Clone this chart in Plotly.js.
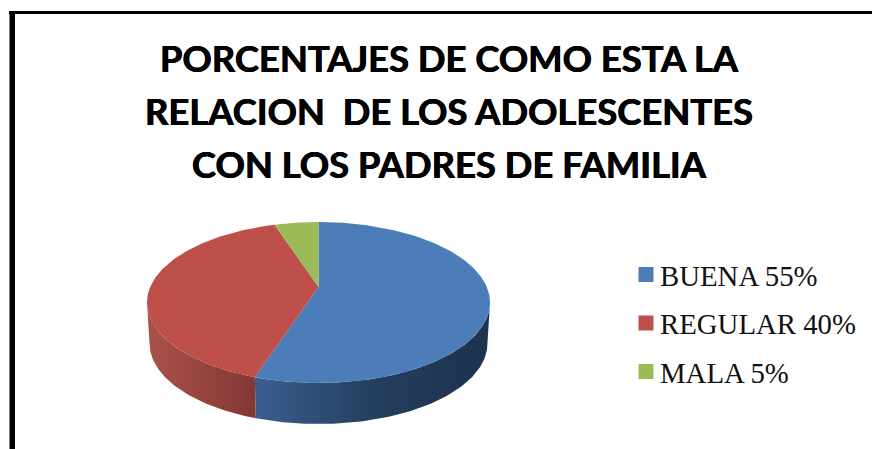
<!DOCTYPE html>
<html>
<head>
<meta charset="utf-8">
<script src="https://cdn.plot.ly/plotly-3.0.1.min.js"></script>
<style>html,body{margin:0;padding:0;background:#fff;}</style>
</head>
<body>
<div id="chart" style="width:872px;height:449px;"></div>
<script>
const categories = ["BUENA 55%", "REGULAR 40%", "MALA 5%"];
const values = [55, 40, 5];
const colors = ["#4C7DB9", "#BE504C", "#9BBB59"];
const sideGradients = [
  [[0, "#3A5F8F"], [0.5, "#243E5E"], [1, "#1D334F"]],
  [[0, "#AA514C"], [1, "#833834"]],
  [[0, "#7A9445"], [1, "#5F7335"]]
];
const titleLines = ["PORCENTAJES DE COMO ESTA LA", "RELACION  DE LOS ADOLESCENTES", "CON LOS PADRES DE FAMILIA"];

// Perspective view of the pie disc, in page-pixel axis units
const view = {cx: 318.5, cy: 287, rx: 168.3, ry: 77.5, persp: 0.1925, depth: 41, bottomScale: 0.985};
function rim(deg, lower) {
  const t = deg * Math.PI / 180, k = 1 + view.persp * Math.cos(t);
  const s = lower ? view.bottomScale : 1;
  return [view.cx + s * view.rx * Math.sin(t) / k,
          view.cy - view.ry * Math.cos(t) / k + (lower ? view.depth : 0)];
}
function arc(a, b, lower) {
  const pts = [], n = Math.max(2, Math.ceil(Math.abs(b - a)));
  for (let i = 0; i <= n; i++) pts.push(rim(a + (b - a) * i / n, lower));
  return pts;
}
const total = values.reduce((s, v) => s + v, 0);
const sideFrom = Math.acos(-view.persp) * 180 / Math.PI, sideTo = 360 - sideFrom;

const sideTraces = [], topTraces = [], legendTraces = [];
let start = 0;
values.forEach((v, i) => {
  const end = start + v / total * 360;
  const a = Math.max(start, sideFrom), b = Math.min(end, sideTo);
  if (b > a) {
    const pts = arc(a, b, false).concat(arc(b, a, true));
    pts.push(pts[0]);
    sideTraces.push({type: "scatter", mode: "lines", x: pts.map(p => p[0]), y: pts.map(p => p[1]),
      fill: "toself", fillgradient: {type: "horizontal", colorscale: sideGradients[i]},
      line: {width: 0}, showlegend: false, hoverinfo: "skip"});
  }
  const pts = [[view.cx, view.cy]].concat(arc(start, end, false));
  pts.push(pts[0]);
  topTraces.push({type: "scatter", mode: "lines", x: pts.map(p => p[0]), y: pts.map(p => p[1]),
    fill: "toself", fillcolor: colors[i], line: {width: 0}, showlegend: false,
    name: categories[i], hoverinfo: "name"});
  legendTraces.push({type: "scatter", mode: "markers", x: [null], y: [null], name: categories[i],
    legendgroup: categories[i], marker: {symbol: "square", size: 15, color: colors[i]}});
  start = end;
});

const layout = {
  width: 872, height: 449, autosize: false,
  margin: {l: 0, r: 0, t: 0, b: 0},
  paper_bgcolor: "#fff", plot_bgcolor: "#fff",
  title: {
    text: titleLines.map(t => '<span style="font-size:36.4px">' + t.replace(/  /g, " &nbsp;") + "</span>").join("<br>"),
    font: {family: "Lato, Carlito, sans-serif", size: 40.8, color: "#000", weight: 700,
           shadow: "0.4px 0 0 #000, -0.4px 0 0 #000"},
    x: 449 / 872, xanchor: "center", y: 0.839, yanchor: "top"
  },
  xaxis: {range: [0, 872], visible: false, fixedrange: true},
  yaxis: {range: [449, 0], visible: false, fixedrange: true},
  legend: {x: 0.711, y: 0.28, xanchor: "left", yanchor: "middle",
    font: {family: "Liberation Serif, serif", size: 28.8, color: "#111"},
    tracegroupgap: 8, itemclick: false, itemdoubleclick: false, bgcolor: "rgba(0,0,0,0)"},
  shapes: [
    {type: "rect", xref: "paper", yref: "paper", x0: 9 / 872, x1: 1, y0: 1 - 14 / 449, y1: 1 - 11 / 449,
     fillcolor: "#000", line: {width: 0}},
    {type: "rect", xref: "paper", yref: "paper", x0: 9.5 / 872, x1: 15 / 872, y0: 0, y1: 1 - 11 / 449,
     fillcolor: "#000", line: {width: 0}}
  ]
};
Plotly.newPlot("chart", sideTraces.concat(topTraces, legendTraces), layout, {displayModeBar: false}).then(() => {
  // the reference keeps its swatches closer to the legend text
  document.querySelectorAll(".legend .legendsymbols").forEach(g => g.setAttribute("transform", "translate(6,0)"));
});
</script>
</body>
</html>
